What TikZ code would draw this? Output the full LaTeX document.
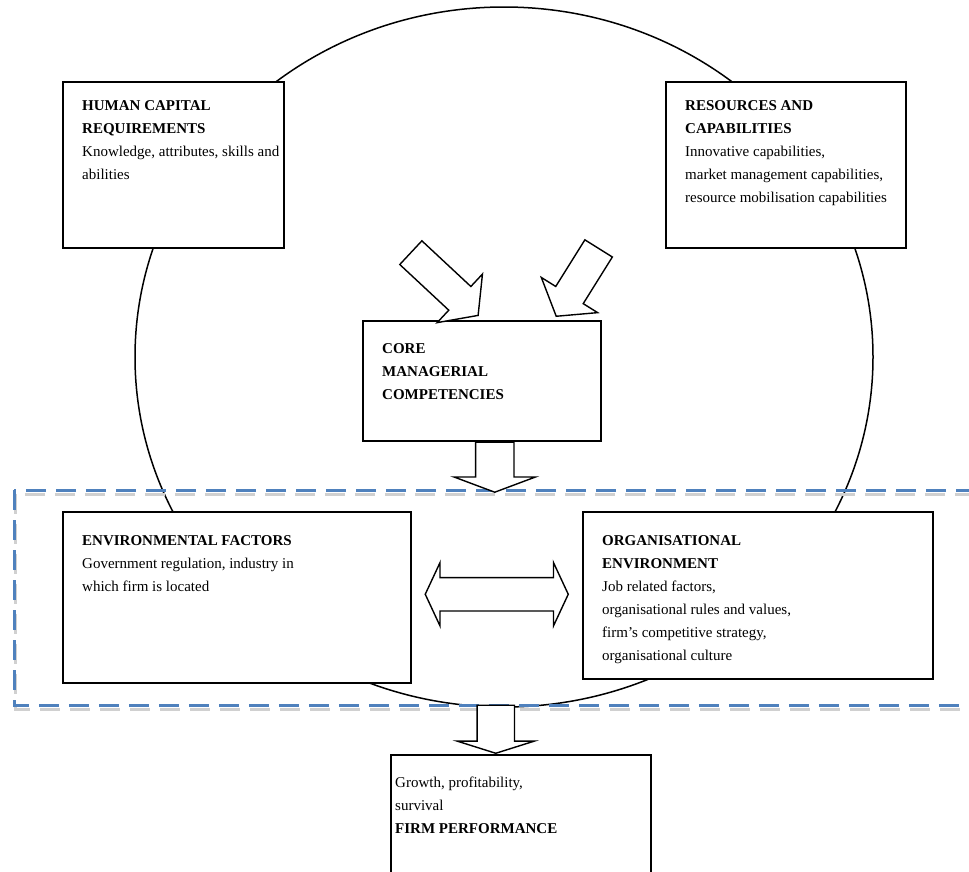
\documentclass[tikz,border=0pt]{standalone}
\usepackage{fontspec}
\setmainfont{Liberation Serif}
\usepackage{xcolor}
\usetikzlibrary{positioning, shapes.arrows, calc}
\definecolor{dashblue}{HTML}{4F81BD}
\definecolor{dashgrey}{HTML}{D0D0D0}

\begin{document}
\begin{tikzpicture}[
    x=1pt, y=-1pt,
    box/.style={draw, rectangle, line width=1.5pt, fill=white,
        anchor=north west, inner sep=0pt},
    txt/.style={inner sep=0pt, align=left,
        font=\fontsize{15}{23}\selectfont},
    blockarrow/.style={draw, line width=1.4pt, fill=white,
        inner xsep=0pt},
    dashline/.style={draw=dashblue, line width=3pt,
        dash pattern=on 20pt off 10pt},
    dashshadow/.style={dashline, draw=dashgrey}
]
    \useasboundingbox (0,0) rectangle (969,871);
    \clip (0,0) rectangle (969,871);

    % outer circle and dashed frame
    \draw[line width=1.5pt] (504,357) ellipse [x radius=369pt, y radius=350pt];
    \draw[dashshadow] (15,494) rectangle (1000,709);
    \draw[dashline] (14,490) rectangle (1000,705);

    % boxes
    \node[box, minimum width=221pt, minimum height=166pt] (hcr) at (62,81) {};
    \node[box, minimum width=240pt, minimum height=166pt] (rc) at (665,81) {};
    \node[box, minimum width=238pt, minimum height=120pt] (core) at (362,320) {};
    \node[box, minimum width=348pt, minimum height=171pt] (env) at (62,511) {};
    \node[box, minimum width=350pt, minimum height=167pt] (org) at (582,511) {};
    \node[box, minimum width=260pt, minimum height=150pt] (firm) at (390,754) {};

    % texts
    \node[txt, below right=19pt and 20pt of hcr.north west] (hcrtxt)
        {\textbf{HUMAN CAPITAL}\\\textbf{REQUIREMENTS}\\
         Knowledge, attributes, skills and\\abilities};
    \node[txt, below right=19pt and 20pt of rc.north west] (rctxt)
        {\textbf{RESOURCES AND}\\\textbf{CAPABILITIES}\\
         Innovative capabilities,\\market management capabilities,\\
         resource mobilisation capabilities};
    \node[txt, below right=23pt and 20pt of core.north west] (coretxt)
        {\textbf{CORE}\\\textbf{MANAGERIAL}\\\textbf{COMPETENCIES}};
    \node[txt, below right=24pt and 20pt of env.north west] (envtxt)
        {\textbf{ENVIRONMENTAL FACTORS}\\
         Government regulation, industry in\\which firm is located};
    \node[txt, below right=24pt and 20pt of org.north west] (orgtxt)
        {\textbf{ORGANISATIONAL}\\\textbf{ENVIRONMENT}\\
         Job related factors,\\organisational rules and values,\\
         firm’s competitive strategy,\\organisational culture};
    \node[txt, below right=23pt and 5pt of firm.north west] (firmtxt)
        {Growth, profitability,\\survival\\\textbf{FIRM PERFORMANCE}};

    % block arrows
    \node[blockarrow, single arrow, inner ysep=15.5pt,
        single arrow head extend=17pt, single arrow tip angle=106,
        minimum height=92pt, rotate=-43, anchor=tip]
        (hcrarrow) at ($(core.north)+(-3,-4)$) {};
    \node[blockarrow, single arrow, inner ysep=15.5pt,
        single arrow head extend=17pt, single arrow tip angle=106,
        minimum height=80pt, rotate=-122, anchor=tip]
        (rcarrow) at ($(core.north)+(74,-3)$) {};
    \node[blockarrow, single arrow, inner ysep=18.5pt,
        single arrow head extend=21.5pt, single arrow tip angle=139,
        minimum height=50pt, rotate=-90, anchor=tail]
        (corearrow) at ($(core.south)+(13,0)$) {};
    \node[blockarrow, double arrow, inner ysep=16pt,
        double arrow head extend=15pt, double arrow tip angle=130,
        minimum height=143pt]
        (envarrow) at ($(env.east)!0.5!(org.west)+(0,-2)$) {};
    \node[blockarrow, single arrow, inner ysep=18pt,
        single arrow head extend=20pt, single arrow tip angle=145,
        minimum height=48pt, rotate=-90, anchor=tip]
        (firmarrow) at ($(firm.north)+(-25,0)$) {};
\end{tikzpicture}
\end{document}
